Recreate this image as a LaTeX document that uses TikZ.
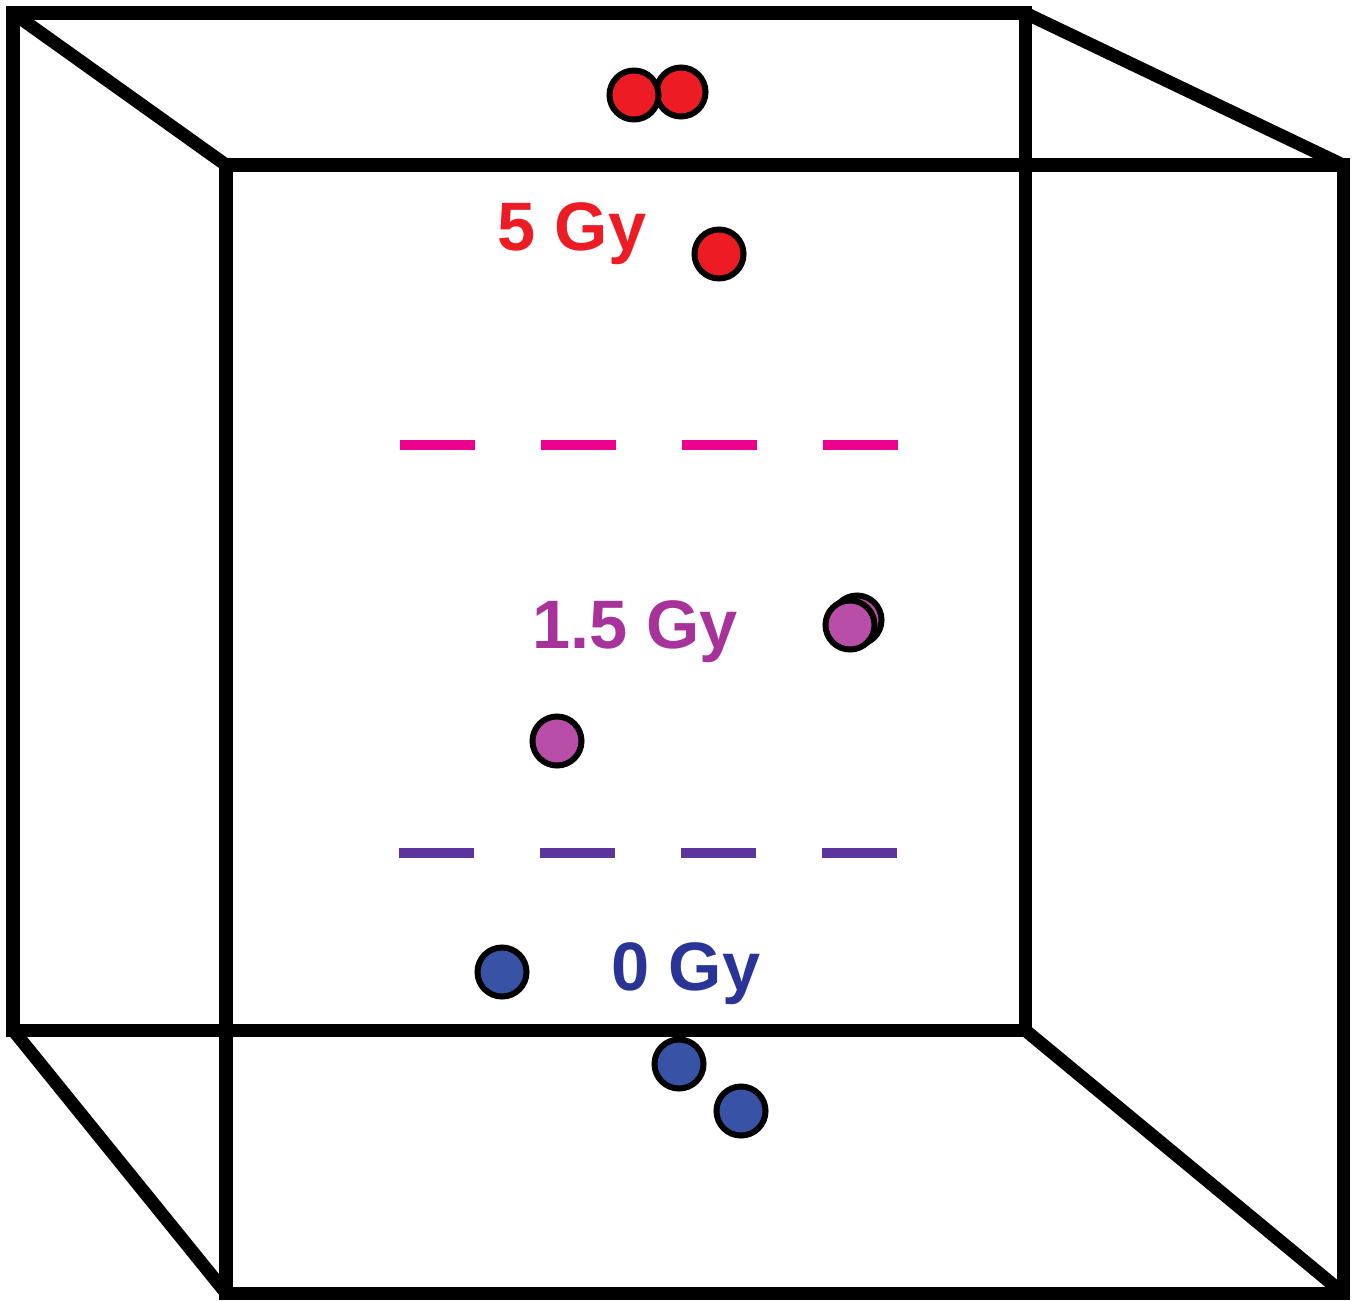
\documentclass[tikz,border=0pt]{standalone}
\usepackage{fontspec}
\setmainfont{Liberation Sans}
\definecolor{gyred}{RGB}{237,28,36}
\definecolor{gymag}{RGB}{236,0,140}
\definecolor{gypink}{RGB}{184,78,168}
\definecolor{gypurple}{RGB}{166,50,154}
\definecolor{gyviolet}{RGB}{92,52,158}
\definecolor{gyblue}{RGB}{56,82,166}
\definecolor{gynavy}{RGB}{42,52,150}
\begin{document}
\begin{tikzpicture}[x=0.01cm,y=-0.01cm,
  edge/.style={line width=3.7pt,line join=miter},
  cell/.style={circle,draw=black,line width=1.7pt,inner sep=0pt,minimum size=0.49cm},
  dose/.style={font=\bfseries\fontsize{19.5}{22}\selectfont,anchor=base},
  level/.style={line width=2.9pt,dash pattern=on 7.45mm off 6.65mm}]
  \useasboundingbox (0,0) rectangle (1355,1300);
  % back face
  \coordinate (B1) at (13,13);
  \coordinate (B2) at (1025,13);
  \coordinate (B3) at (1025,1030);
  \coordinate (B4) at (13,1030);
  % front face
  \coordinate (F1) at (226,165);
  \coordinate (F2) at (1343,165);
  \coordinate (F3) at (1343,1293);
  \coordinate (F4) at (226,1293);
  \draw[edge] (B1)--(B2)--(B3)--(B4)--cycle;
  \draw[edge] (F1)--(F2)--(F3)--(F4)--cycle;
  \draw[edge] (B1)--(F1);
  \draw[edge] (B2)--(F2);
  \draw[edge] (B3)--(F3);
  \draw[edge] (B4)--(F4);
  % dose levels
  \draw[level,gymag] (400,445)--(898,445);
  \draw[level,gyviolet] (399,853)--(897,853);
  \node[dose,text=gyred] (hi) at (572,250) {5 Gy};
  \node[dose,text=gypurple] (mid) at (635,648) {1.5 Gy};
  \node[dose,text=gynavy] (lo) at (686,990) {0 Gy};
  % cells
  \node[cell,fill=gyred] (r2) at (681,92) {};
  \node[cell,fill=gyred] (r1) at (634,95) {};
  \node[cell,fill=gyred] (r3) at (719,254) {};
  \node[cell,fill=gypink] (p2) at (857,620) {};
  \node[cell,fill=gypink] (p1) at (850,625) {};
  \node[cell,fill=gypink] (p3) at (557,741) {};
  \node[cell,fill=gyblue] (b1) at (502,972) {};
  \node[cell,fill=gyblue] (b2) at (679,1064) {};
  \node[cell,fill=gyblue] (b3) at (741,1111) {};
\end{tikzpicture}
\end{document}
